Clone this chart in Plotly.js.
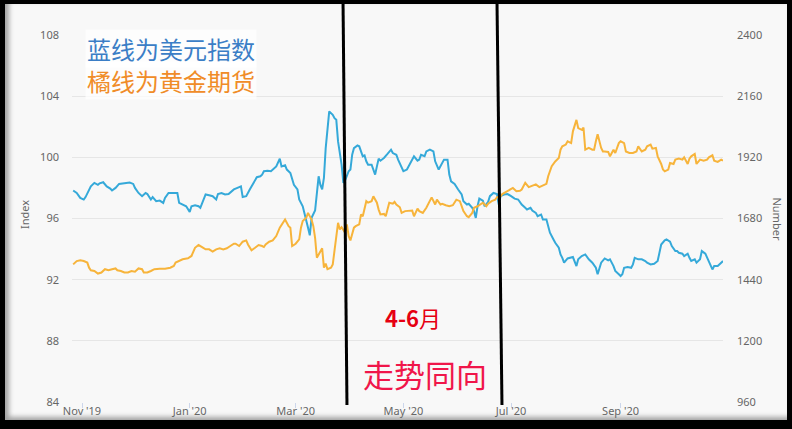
<!DOCTYPE html>
<html>
<head>
<meta charset="utf-8">
<script src="https://cdn.plot.ly/plotly-3.0.1.min.js"></script>
<style>
html,body{margin:0;padding:0;background:#fff;}
#frame{position:absolute;left:0;top:0;width:792px;height:429px;box-sizing:border-box;border-style:solid;border-color:#000;border-width:4px 5px 9px 5px;background:#f8f8f8;box-shadow:inset 4px -3px 5px rgba(0,0,0,0.35);overflow:hidden;}
#chart{position:absolute;left:0;top:0;width:782px;height:416px;}
</style>
</head>
<body>
<div id="frame"><div id="chart"></div></div>
<script>
// US Dollar Index (left axis, "Index")
const dxyDates = ["2019-10-27","2019-10-29","2019-10-31","2019-11-02","2019-11-03","2019-11-05","2019-11-06","2019-11-08","2019-11-10","2019-11-11","2019-11-13","2019-11-15","2019-11-17","2019-11-18","2019-11-20","2019-11-22","2019-11-24","2019-11-26","2019-11-28","2019-11-30","2019-12-01","2019-12-03","2019-12-05","2019-12-07","2019-12-08","2019-12-10","2019-12-11","2019-12-13","2019-12-15","2019-12-17","2019-12-18","2019-12-20","2019-12-23","2019-12-25","2019-12-26","2019-12-28","2019-12-30","2020-01-01","2020-01-02","2020-01-04","2020-01-06","2020-01-07","2020-01-09","2020-01-10","2020-01-12","2020-01-14","2020-01-16","2020-01-17","2020-01-19","2020-01-21","2020-01-23","2020-01-25","2020-01-26","2020-01-28","2020-01-30","2020-01-31","2020-02-02","2020-02-04","2020-02-06","2020-02-08","2020-02-10","2020-02-11","2020-02-12","2020-02-14","2020-02-16","2020-02-18","2020-02-19","2020-02-21","2020-02-22","2020-02-24","2020-02-25","2020-02-27","2020-02-28","2020-02-29","2020-03-02","2020-03-03","2020-03-05","2020-03-06","2020-03-07","2020-03-08","2020-03-09","2020-03-10","2020-03-12","2020-03-13","2020-03-14","2020-03-15","2020-03-16","2020-03-17","2020-03-18","2020-03-20","2020-03-22","2020-03-23","2020-03-24","2020-03-25","2020-03-27","2020-03-28","2020-03-29","2020-03-31","2020-04-01","2020-04-02","2020-04-03","2020-04-05","2020-04-06","2020-04-08","2020-04-09","2020-04-10","2020-04-11","2020-04-13","2020-04-15","2020-04-16","2020-04-17","2020-04-18","2020-04-20","2020-04-22","2020-04-24","2020-04-25","2020-04-27","2020-04-28","2020-04-30","2020-05-01","2020-05-03","2020-05-04","2020-05-06","2020-05-07","2020-05-09","2020-05-10","2020-05-11","2020-05-13","2020-05-14","2020-05-16","2020-05-18","2020-05-19","2020-05-21","2020-05-23","2020-05-24","2020-05-26","2020-05-27","2020-05-28","2020-05-30","2020-06-01","2020-06-03","2020-06-04","2020-06-06","2020-06-07","2020-06-09","2020-06-10","2020-06-11","2020-06-12","2020-06-13","2020-06-15","2020-06-16","2020-06-18","2020-06-19","2020-06-21","2020-06-23","2020-06-24","2020-06-25","2020-06-27","2020-06-29","2020-07-01","2020-07-03","2020-07-05","2020-07-06","2020-07-07","2020-07-09","2020-07-10","2020-07-12","2020-07-13","2020-07-15","2020-07-16","2020-07-18","2020-07-19","2020-07-21","2020-07-22","2020-07-23","2020-07-25","2020-07-26","2020-07-28","2020-07-29","2020-07-30","2020-07-31","2020-08-02","2020-08-04","2020-08-05","2020-08-07","2020-08-08","2020-08-10","2020-08-12","2020-08-14","2020-08-16","2020-08-18","2020-08-19","2020-08-21","2020-08-22","2020-08-23","2020-08-25","2020-08-26","2020-08-28","2020-08-29","2020-08-31","2020-09-01","2020-09-02","2020-09-03","2020-09-05","2020-09-07","2020-09-08","2020-09-09","2020-09-11","2020-09-13","2020-09-15","2020-09-16","2020-09-18","2020-09-20","2020-09-22","2020-09-23","2020-09-24","2020-09-26","2020-09-27","2020-09-29","2020-09-30","2020-10-02","2020-10-03","2020-10-04","2020-10-06","2020-10-07","2020-10-09","2020-10-10","2020-10-11","2020-10-13","2020-10-14","2020-10-16","2020-10-17","2020-10-19","2020-10-20","2020-10-21","2020-10-23","2020-10-24","2020-10-26","2020-10-28","2020-10-29"];
const dxyValues = [97.83,97.67,97.35,97.24,97.40,97.90,98.10,98.33,98.20,98.30,98.37,98.10,97.96,97.83,98.00,98.26,98.28,98.30,98.35,98.26,98.00,97.67,97.46,97.67,97.60,97.24,97.40,97.13,97.17,97.02,97.35,97.67,97.67,97.67,97.02,96.90,96.80,96.43,96.80,96.87,96.80,96.70,97.35,97.57,97.52,97.46,97.24,97.60,97.67,97.57,97.60,97.83,97.90,98.00,98.10,97.40,97.46,97.90,98.33,98.70,98.76,98.87,99.09,99.13,99.09,99.30,99.41,99.91,99.41,99.48,99.20,98.98,98.54,98.20,97.90,97.24,96.80,96.26,95.72,95.39,94.90,96.04,96.52,97.78,98.76,98.20,97.90,98.65,100.60,103.00,102.78,102.56,102.46,101.04,99.52,98.33,98.48,99.09,99.20,100.17,100.60,100.78,100.72,100.07,100.13,99.74,99.52,99.52,98.87,99.41,99.91,99.78,99.96,100.22,100.50,100.28,100.17,99.85,99.41,99.09,99.20,99.41,99.91,100.07,99.78,99.85,100.17,100.07,100.39,100.50,100.39,99.74,99.20,99.63,99.85,99.85,98.87,98.43,98.26,97.90,97.57,97.13,96.91,96.96,96.70,96.48,96.04,96.80,97.30,97.17,96.80,97.09,97.46,97.67,97.60,96.91,97.46,97.57,97.60,97.46,97.30,97.24,97.09,96.91,96.70,96.59,96.70,96.52,96.37,96.15,96.26,95.93,95.93,95.50,95.07,94.63,94.41,94.09,93.65,93.43,93.11,93.39,93.43,93.48,92.89,93.33,93.54,93.65,93.33,93.11,92.78,92.35,93.11,93.22,93.39,93.26,93.33,92.89,92.57,92.35,92.24,92.35,92.78,92.83,92.78,93.00,93.43,93.33,93.33,93.22,93.11,93.00,93.04,93.22,93.87,94.30,94.57,94.63,94.48,94.20,93.87,93.87,93.76,93.70,93.54,93.70,93.43,93.22,93.33,93.11,93.33,93.87,93.70,93.43,93.11,92.67,92.89,92.89,93.11,93.22];

// Gold futures (right axis, "Number")
const goldDates = ["2019-10-27","2019-10-29","2019-10-31","2019-11-02","2019-11-04","2019-11-05","2019-11-06","2019-11-08","2019-11-10","2019-11-12","2019-11-14","2019-11-16","2019-11-18","2019-11-20","2019-11-21","2019-11-23","2019-11-25","2019-11-27","2019-11-29","2019-12-01","2019-12-03","2019-12-05","2019-12-06","2019-12-08","2019-12-10","2019-12-12","2019-12-15","2019-12-18","2019-12-21","2019-12-23","2019-12-24","2019-12-26","2019-12-28","2019-12-31","2020-01-02","2020-01-04","2020-01-06","2020-01-08","2020-01-10","2020-01-12","2020-01-14","2020-01-16","2020-01-18","2020-01-20","2020-01-22","2020-01-24","2020-01-26","2020-01-27","2020-01-29","2020-01-31","2020-02-02","2020-02-03","2020-02-05","2020-02-07","2020-02-09","2020-02-11","2020-02-12","2020-02-13","2020-02-15","2020-02-17","2020-02-19","2020-02-21","2020-02-23","2020-02-24","2020-02-26","2020-02-27","2020-02-28","2020-03-01","2020-03-03","2020-03-04","2020-03-05","2020-03-07","2020-03-08","2020-03-10","2020-03-11","2020-03-12","2020-03-13","2020-03-15","2020-03-16","2020-03-17","2020-03-18","2020-03-19","2020-03-21","2020-03-22","2020-03-23","2020-03-24","2020-03-25","2020-03-26","2020-03-27","2020-03-29","2020-03-30","2020-03-31","2020-04-01","2020-04-03","2020-04-04","2020-04-06","2020-04-07","2020-04-08","2020-04-10","2020-04-11","2020-04-13","2020-04-14","2020-04-16","2020-04-17","2020-04-18","2020-04-20","2020-04-21","2020-04-23","2020-04-25","2020-04-26","2020-04-27","2020-04-29","2020-04-30","2020-05-02","2020-05-04","2020-05-06","2020-05-07","2020-05-09","2020-05-10","2020-05-12","2020-05-14","2020-05-16","2020-05-17","2020-05-19","2020-05-20","2020-05-22","2020-05-23","2020-05-25","2020-05-27","2020-05-29","2020-05-31","2020-06-02","2020-06-03","2020-06-04","2020-06-06","2020-06-07","2020-06-09","2020-06-10","2020-06-12","2020-06-14","2020-06-15","2020-06-17","2020-06-18","2020-06-20","2020-06-22","2020-06-23","2020-06-25","2020-06-26","2020-06-28","2020-06-30","2020-07-02","2020-07-04","2020-07-06","2020-07-07","2020-07-09","2020-07-11","2020-07-13","2020-07-15","2020-07-17","2020-07-19","2020-07-21","2020-07-22","2020-07-24","2020-07-26","2020-07-28","2020-07-29","2020-07-30","2020-08-01","2020-08-02","2020-08-04","2020-08-05","2020-08-07","2020-08-08","2020-08-10","2020-08-11","2020-08-12","2020-08-14","2020-08-16","2020-08-17","2020-08-18","2020-08-19","2020-08-21","2020-08-22","2020-08-23","2020-08-25","2020-08-26","2020-08-28","2020-08-29","2020-08-31","2020-09-01","2020-09-03","2020-09-04","2020-09-06","2020-09-08","2020-09-10","2020-09-11","2020-09-13","2020-09-15","2020-09-16","2020-09-18","2020-09-19","2020-09-21","2020-09-22","2020-09-24","2020-09-25","2020-09-26","2020-09-28","2020-09-29","2020-10-01","2020-10-02","2020-10-04","2020-10-06","2020-10-07","2020-10-09","2020-10-10","2020-10-11","2020-10-13","2020-10-14","2020-10-16","2020-10-18","2020-10-20","2020-10-21","2020-10-23","2020-10-24","2020-10-26","2020-10-28","2020-10-29"];
const goldValues = [1500,1513,1516,1513,1507,1487,1477,1474,1464,1468,1481,1477,1481,1484,1477,1474,1468,1468,1474,1471,1484,1481,1468,1468,1474,1481,1483,1483,1487,1494,1507,1513,1520,1524,1533,1565,1576,1568,1559,1559,1550,1559,1563,1559,1563,1572,1581,1581,1572,1589,1594,1578,1555,1565,1576,1572,1568,1578,1589,1594,1611,1644,1667,1676,1650,1644,1572,1581,1598,1644,1670,1683,1702,1676,1650,1604,1526,1552,1563,1487,1503,1481,1487,1500,1552,1611,1663,1637,1646,1624,1657,1611,1594,1644,1650,1657,1696,1689,1748,1742,1748,1767,1742,1715,1696,1698,1689,1742,1738,1745,1735,1724,1702,1709,1711,1711,1689,1719,1709,1702,1722,1748,1763,1735,1754,1735,1738,1732,1728,1732,1754,1748,1728,1709,1689,1685,1702,1722,1728,1738,1742,1728,1738,1748,1754,1763,1767,1776,1785,1794,1800,1787,1789,1794,1820,1803,1807,1814,1803,1811,1816,1846,1885,1904,1917,1950,1963,1970,1983,1976,2022,2067,2035,2028,2037,1950,1957,1950,1950,1983,2011,1957,1943,1943,1941,1924,1950,1937,1976,1983,1976,1943,1937,1937,1943,1963,1943,1950,1963,1970,1954,1957,1924,1894,1872,1865,1872,1898,1894,1911,1915,1911,1920,1894,1915,1924,1933,1894,1911,1907,1911,1920,1928,1907,1902,1911,1907];

// Axis ticks
const xTickVals = ["2019-11-01","2020-01-01","2020-03-01","2020-05-01","2020-07-01","2020-09-01"];
const xTickText = ["Nov '19","Jan '20","Mar '20","May '20","Jul '20","Sep '20"];
const leftTicks = [84,88,92,96,100,104,108];
const rightTicks = [960,1200,1440,1680,1920,2160,2400];

const tickFont = {family:"Noto Sans, Open Sans, sans-serif", size:11, color:"#666666"};

const traces = [
  {x:dxyDates, y:dxyValues, type:"scatter", mode:"lines", name:"美元指数", yaxis:"y",
   line:{color:"#35a9d9", width:2}},
  {x:goldDates, y:goldValues, type:"scatter", mode:"lines", name:"黄金期货", yaxis:"y2",
   line:{color:"#f7b43b", width:2}}
];

const layout = {
  width:782, height:416,
  margin:{l:67, r:64, t:31, b:18},
  paper_bgcolor:"rgba(0,0,0,0)", plot_bgcolor:"rgba(0,0,0,0)",
  showlegend:false,
  xaxis:{type:"date", range:["2019-10-26 08:00","2020-10-29"], showgrid:false, zeroline:false,
    tickvals:xTickVals, ticktext:xTickText, ticks:"outside", ticklen:5, tickcolor:"#ccd6eb",
    tickfont:tickFont, ticklabelstandoff:-6, showline:false},
  yaxis:{range:[84,108], tickvals:leftTicks, showgrid:true, gridcolor:"#e6e6e6", gridwidth:1,
    zeroline:false, tickfont:tickFont, ticklabelstandoff:12, showline:false},
  yaxis2:{range:[960,2400], tickvals:rightTicks, overlaying:"y", side:"right", showgrid:false,
    zeroline:false, tickfont:tickFont, ticklabelstandoff:13, showline:false},
  shapes:[
    {type:"line", xref:"paper", yref:"paper", x0:0.4163, y0:1.095, x1:0.4224, y1:-0.008,
     line:{color:"#000", width:3}},
    {type:"line", xref:"paper", yref:"paper", x0:0.6528, y0:1.095, x1:0.6605, y1:-0.008,
     line:{color:"#000", width:3}}
  ],
  annotations:[
    {text:"蓝线为美元指数", xref:"paper", yref:"paper", x:0.152, y:0.962, xanchor:"center", yanchor:"middle",
     showarrow:false, font:{family:"Noto Sans CJK SC", size:24, color:"#3b7ec6"}, bgcolor:"rgba(255,255,255,0.7)"},
    {text:"橘线为黄金期货", xref:"paper", yref:"paper", x:0.152, y:0.877, xanchor:"center", yanchor:"middle",
     showarrow:false, font:{family:"Noto Sans CJK SC", size:24, color:"#f08c28"}, bgcolor:"rgba(255,255,255,0.7)"},
    {text:"<b>4-6</b>月", xref:"paper", yref:"paper", x:0.524, y:0.232, xanchor:"center", yanchor:"middle",
     showarrow:false, font:{family:"Noto Sans CJK SC", size:22, color:"#e60012"}},
    {text:"走势同向", xref:"paper", yref:"paper", x:0.542, y:0.079, xanchor:"center", yanchor:"middle",
     showarrow:false, font:{family:"Noto Sans CJK SC", size:31, color:"#f0164a"}},
    {text:"Index", xref:"paper", yref:"paper", x:-0.072, y:0.51, xanchor:"center", yanchor:"middle",
     showarrow:false, textangle:-90, font:{family:"Noto Sans, Open Sans, sans-serif", size:11, color:"#666666"}},
    {text:"Number", xref:"paper", yref:"paper", x:1.083, y:0.5, xanchor:"center", yanchor:"middle",
     showarrow:false, textangle:90, font:{family:"Noto Sans, Open Sans, sans-serif", size:11, color:"#666666"}}
  ]
};

Plotly.newPlot("chart", traces, layout, {displayModeBar:false, staticPlot:true});
</script>
</body>
</html>
